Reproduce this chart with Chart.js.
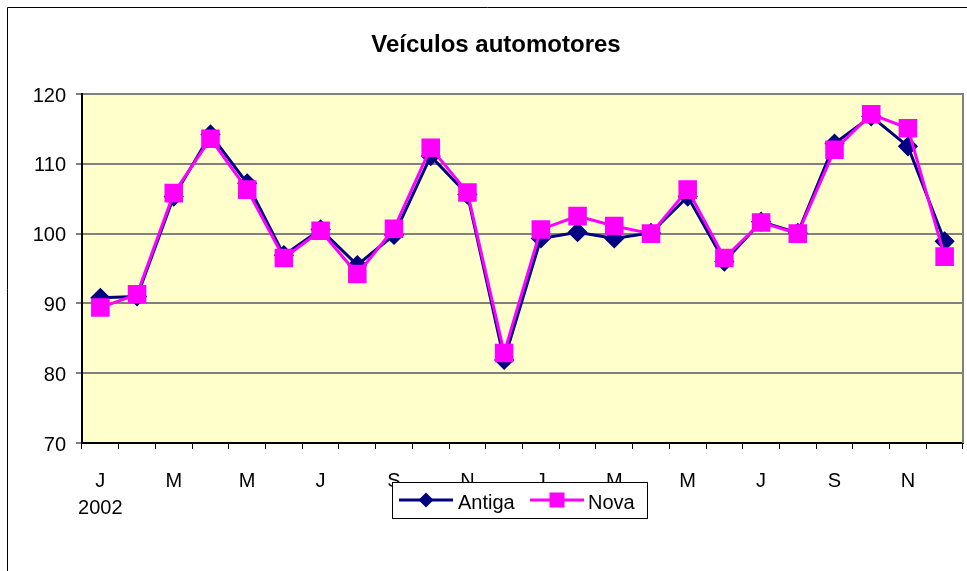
<!DOCTYPE html>
<html>
<head>
<meta charset="utf-8">
<script src="https://cdn.jsdelivr.net/npm/chart.js@4/dist/chart.umd.min.js"></script>
<style>
  html, body { margin: 0; padding: 0; background: #fff; }
  #wrap { width: 967px; height: 571px; }
</style>
</head>
<body>
<div id="wrap"><canvas id="chart" width="967" height="571"></canvas></div>
<script>
const months = ['J', 'F', 'M', 'A', 'M', 'J', 'J', 'A', 'S', 'O', 'N', 'D',
                'J', 'F', 'M', 'A', 'M', 'J', 'J', 'A', 'S', 'O', 'N', 'D'];
const firstYear = '2002';
const antiga = [90.8, 91.0, 105.3, 114.2, 107.2, 96.9, 100.6, 95.5, 99.8, 111.1, 105.6, 81.9,
                99.3, 100.2, 99.3, 100.1, 105.3, 96.0, 101.7, 100.1, 112.9, 116.8, 112.5, 98.9];
const nova = [89.4, 91.3, 105.8, 113.6, 106.3, 96.5, 100.4, 94.2, 100.7, 112.3, 105.9, 82.9,
              100.6, 102.5, 101.1, 100.0, 106.3, 96.5, 101.6, 100.0, 112.0, 117.1, 115.1, 96.7];
const yTicks = [70, 80, 90, 100, 110, 120];
const titleText = 'Veículos automotores';

const labels = months.map((m, i) => i === 0 ? [m, firstYear] : m);

const FONT = 'Arial, "Liberation Sans", sans-serif';

// plot background, right border, outer frame and title
const frame = {
    id: 'frame',
    beforeDraw(chart) {
        const { ctx, chartArea: a } = chart;
        ctx.save();
        ctx.fillStyle = '#FFFFCC';
        ctx.fillRect(a.left, a.top, a.right - a.left, a.bottom - a.top);
        ctx.restore();
    },
    afterDraw(chart) {
        const { ctx, chartArea: a } = chart;
        ctx.save();
        ctx.strokeStyle = '#808080';
        ctx.lineWidth = 2;
        ctx.beginPath();
        ctx.moveTo(a.right, a.top - 1);
        ctx.lineTo(a.right, a.bottom);
        ctx.stroke();
        ctx.strokeStyle = '#000';
        ctx.lineWidth = 1;
        ctx.beginPath();
        ctx.moveTo(7.5, 571);
        ctx.lineTo(7.5, 7.5);
        ctx.lineTo(967, 7.5);
        ctx.stroke();
        ctx.fillStyle = '#000';
        ctx.font = 'bold 24px ' + FONT;
        ctx.textAlign = 'center';
        ctx.textBaseline = 'middle';
        ctx.fillText(titleText, 496, 45);
        ctx.restore();
    }
};

// boxed legend that sits over the axis labels
const boxLegend = {
    id: 'boxLegend',
    afterDraw(chart) {
        const { ctx } = chart;
        const x0 = 392, y0 = 482, w = 255, h = 36;
        const cy = 500;
        ctx.save();
        ctx.fillStyle = '#fff';
        ctx.fillRect(x0, y0, w, h);
        ctx.strokeStyle = '#000';
        ctx.lineWidth = 1;
        ctx.strokeRect(x0 + 0.5, y0 + 0.5, w, h);
        ctx.font = '20px ' + FONT;
        ctx.textBaseline = 'middle';
        const items = [[399, 458], [530, 588]];
        chart.data.datasets.forEach((ds, i) => {
            const [lx, tx] = items[i];
            const mx = lx + 27;
            ctx.strokeStyle = ds.borderColor;
            ctx.lineWidth = 3;
            ctx.beginPath();
            ctx.moveTo(lx, cy);
            ctx.lineTo(lx + 54, cy);
            ctx.stroke();
            ctx.fillStyle = ds.pointBackgroundColor;
            ctx.beginPath();
            if (ds.pointStyle === 'rectRot') {
                const r = 7.5;
                ctx.moveTo(mx - r, cy);
                ctx.lineTo(mx, cy - r);
                ctx.lineTo(mx + r, cy);
                ctx.lineTo(mx, cy + r);
            } else {
                ctx.rect(mx - 7.5, cy - 7.5, 15, 15);
            }
            ctx.closePath();
            ctx.fill();
            ctx.fillStyle = '#000';
            ctx.fillText(ds.label, tx, cy + 3);
        });
        ctx.restore();
    }
};

new Chart(document.getElementById('chart'), {
    type: 'line',
    data: {
        labels: labels,
        datasets: [{
            label: 'Antiga',
            data: antiga,
            order: 1,
            borderColor: '#000080',
            backgroundColor: '#000080',
            pointBackgroundColor: '#000080',
            pointBorderColor: '#000080',
            pointStyle: 'rectRot',
            pointRadius: 8,
            pointHoverRadius: 8,
            borderWidth: 3,
            tension: 0
        }, {
            label: 'Nova',
            data: nova,
            order: 0,
            borderColor: '#FF00FF',
            backgroundColor: '#FF00FF',
            pointBackgroundColor: '#FF00FF',
            pointBorderColor: '#FF00FF',
            pointStyle: 'rect',
            pointRadius: 11,
            pointHoverRadius: 11,
            borderWidth: 3,
            tension: 0
        }]
    },
    options: {
        responsive: false,
        animation: false,
        layout: { autoPadding: false, padding: { left: 0, right: 4, top: 94, bottom: 0 } },
        plugins: {
            legend: { display: false },
            tooltip: { enabled: false },
            title: { display: false }
        },
        scales: {
            x: {
                offset: true,
                grid: {
                    offset: true,
                    drawOnChartArea: false,
                    color: '#000',
                    tickLength: 6,
                    tickWidth: 1
                },
                border: { color: '#000', width: 2 },
                ticks: {
                    autoSkip: false,
                    maxRotation: 0,
                    color: '#000',
                    padding: 19,
                    font: { family: FONT, size: 20, lineHeight: 1.35 },
                    callback: function(value, index) {
                        return index % 2 === 0 ? this.getLabelForValue(value) : '';
                    }
                },
                afterFit(scale) {
                    scale.height = 128;
                    scale.paddingLeft = 0;
                    scale.paddingRight = 0;
                }
            },
            y: {
                min: yTicks[0],
                max: yTicks[yTicks.length - 1],
                afterBuildTicks(scale) { scale.ticks = yTicks.map(v => ({ value: v })); },
                grid: {
                    color: '#808080',
                    lineWidth: 2,
                    tickColor: '#000',
                    tickLength: 6,
                    tickWidth: 1
                },
                border: { color: '#000', width: 2 },
                ticks: {
                    color: '#000',
                    padding: 10,
                    labelOffset: 2,
                    font: { family: FONT, size: 20 }
                },
                afterFit(scale) { scale.width = 82; }
            }
        }
    },
    plugins: [frame, boxLegend]
});
</script>
</body>
</html>
